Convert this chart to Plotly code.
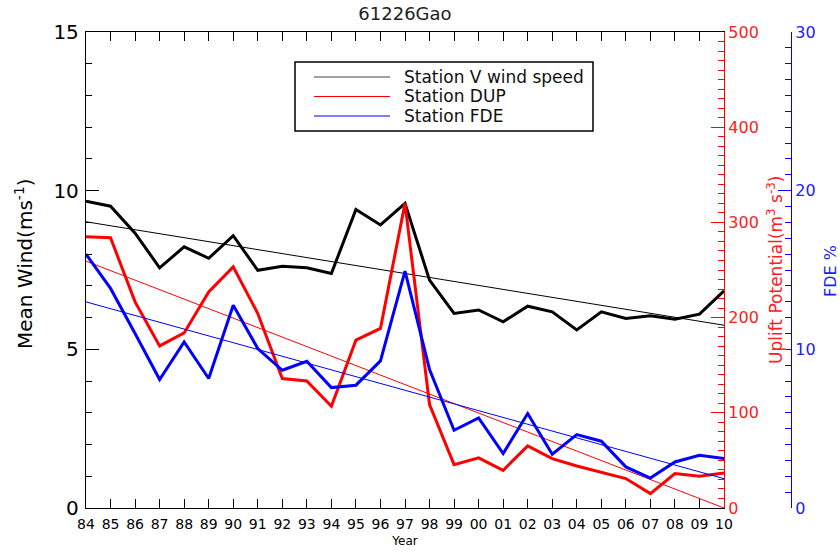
import plotly.graph_objects as go

years = list(range(1984, 2011))
year_labels = ["84","85","86","87","88","89","90","91","92","93","94","95","96","97",
               "98","99","00","01","02","03","04","05","06","07","08","09","10"]

wind = [9.67, 9.51, 8.66, 7.57, 8.23, 7.87, 8.58, 7.49, 7.62, 7.57, 7.39, 9.41, 8.92, 9.60,
        7.18, 6.13, 6.24, 5.87, 6.36, 6.18, 5.61, 6.18, 5.97, 6.06, 5.95, 6.11, 6.84]
dup = [284.8, 283.8, 216.5, 170.3, 183.9, 227.0, 253.3, 204.3, 136.0, 133.5, 106.9, 176.3, 188.6, 320.0,
       108.7, 45.6, 52.6, 39.6, 65.2, 51.9, 44.1, 37.8, 30.9, 15.1, 36.2, 33.3, 36.8]
fde = [16.0, 13.84, 11.0, 8.1, 10.47, 8.16, 12.78, 10.05, 8.68, 9.25, 7.59, 7.74, 9.27, 14.93,
       8.73, 4.9, 5.68, 3.43, 5.95, 3.39, 4.63, 4.21, 2.59, 1.89, 2.9, 3.32, 3.12]

trend_x = [1984, 2010]
wind_trend = [9.02, 5.76]
dup_trend = [259.3, 0.0]
fde_trend = [12.99, 1.85]

legend_names = ["Station V wind speed", "Station DUP", "Station FDE"]
colors = ["black", "#ff0000", "#0000ff"]
legend_line_colors = ["#444444", "#ff0000", "#0000ff"]

FONT = "DejaVu Sans"
W, H = 840, 554
L, R, T, B = 86, 30, 32, 46
plot_w = W - L - R
plot_h = H - T - B
xdom_end = (724 - L) / plot_w
blue_pos = (791 - L) / plot_w


def px(x):
    return (x - L) / plot_w


def py(y):
    return 1 - (y - T) / plot_h


fig = go.Figure()
# trend lines
fig.add_trace(go.Scatter(x=trend_x, y=fde_trend, yaxis="y3", mode="lines",
                         line=dict(color=colors[2], width=1), showlegend=False))
fig.add_trace(go.Scatter(x=trend_x, y=dup_trend, yaxis="y2", mode="lines",
                         line=dict(color=colors[1], width=1), showlegend=False))
fig.add_trace(go.Scatter(x=trend_x, y=wind_trend, yaxis="y", mode="lines",
                         line=dict(color=colors[0], width=1), showlegend=False))
# data lines
fig.add_trace(go.Scatter(x=years, y=fde, yaxis="y3", mode="lines", name=legend_names[2],
                         line=dict(color=colors[2], width=3), showlegend=False))
fig.add_trace(go.Scatter(x=years, y=dup, yaxis="y2", mode="lines", name=legend_names[1],
                         line=dict(color=colors[1], width=3), showlegend=False))
fig.add_trace(go.Scatter(x=years, y=wind, yaxis="y", mode="lines", name=legend_names[0],
                         line=dict(color=colors[0], width=3), showlegend=False))

# legend box (drawn manually to match the long sample lines)
shapes = [dict(type="rect", xref="paper", yref="paper", x0=px(295), x1=px(593), y0=py(131), y1=py(62),
               line=dict(color="black", width=1.5), fillcolor="white", layer="above")]
annotations = []
row_y = [77, 96.5, 116]
for name, c, ry in zip(legend_names, legend_line_colors, row_y):
    shapes.append(dict(type="line", xref="paper", yref="paper", x0=px(314), x1=px(390),
                       y0=py(ry), y1=py(ry), line=dict(color=c, width=1), layer="above"))
    annotations.append(dict(text=name, xref="paper", yref="paper", x=px(402), y=py(ry),
                            xanchor="left", yanchor="middle", showarrow=False,
                            font=dict(size=17, family=FONT, color="#111")))

# axis titles
annotations.append(dict(text="Mean Wind(ms<sup>-1</sup>)", xref="paper", yref="paper",
                        x=px(24), y=py(264), xanchor="center", yanchor="middle", textangle=-90,
                        showarrow=False, font=dict(size=20, family=FONT, color="black")))
annotations.append(dict(text="Uplift Potential(m<sup>3</sup> s<sup>-3</sup>)", xref="paper", yref="paper",
                        x=px(775), y=py(270), xanchor="center", yanchor="middle", textangle=-90,
                        showarrow=False, font=dict(size=17, family=FONT, color="#ff2020")))
annotations.append(dict(text="FDE %", xref="paper", yref="paper",
                        x=px(830), y=py(271), xanchor="center", yanchor="middle", textangle=-90,
                        showarrow=False, font=dict(size=16, family=FONT, color="#2020ff")))

fig.update_layout(
    width=W, height=H,
    margin=dict(l=L, r=R, t=T, b=B, autoexpand=False),
    paper_bgcolor="white", plot_bgcolor="white",
    font=dict(family=FONT, color="black"),
    title=dict(text="61226Gao", x=405 / W, xanchor="center", y=1 - 14 / H, yanchor="middle",
               font=dict(size=18, color="#222")),
    showlegend=False,
    shapes=shapes,
    annotations=annotations,
    xaxis=dict(domain=[0, xdom_end], range=[1984, 2010], tickmode="array", tickvals=years,
               ticktext=year_labels, ticks="inside", ticklen=9, tickcolor="black",
               showline=True, linecolor="black", linewidth=1.3, mirror="ticks",
               showgrid=False, zeroline=False, tickfont=dict(size=14), ticklabelstandoff=3,
               title=dict(text="Year", font=dict(size=12), standoff=5)),
    yaxis=dict(range=[0, 15], dtick=5, ticks="inside", ticklen=13, tickcolor="black",
               showline=True, linecolor="black", linewidth=1.3, showgrid=False, zeroline=False,
               minor=dict(dtick=1, ticks="inside", ticklen=6, tickcolor="black", showgrid=False),
               tickfont=dict(size=20), ticklabelstandoff=2),
    yaxis2=dict(range=[0, 500], dtick=100, overlaying="y", side="right", anchor="x",
                ticks="inside", ticklen=13, tickcolor="#ff0000",
                showline=True, linecolor="#ff0000", linewidth=1.3, showgrid=False, zeroline=False,
                minor=dict(dtick=10, ticks="inside", ticklen=6, tickcolor="#ff0000", showgrid=False),
                tickfont=dict(size=16, color="#ff2020")),
    yaxis3=dict(range=[0, 30], dtick=10, overlaying="y", side="right", anchor="free",
                position=blue_pos, ticks="inside", ticklen=13, tickcolor="#0000ff",
                showline=True, linecolor="#0000ff", linewidth=1.3, showgrid=False, zeroline=False,
                minor=dict(dtick=1, ticks="inside", ticklen=6, tickcolor="#0000ff", showgrid=False),
                tickfont=dict(size=16, color="#2020ff")),
)

fig.write_html("out.html", config={"displayModeBar": False},
               post_script="document.body.style.margin='0';")
